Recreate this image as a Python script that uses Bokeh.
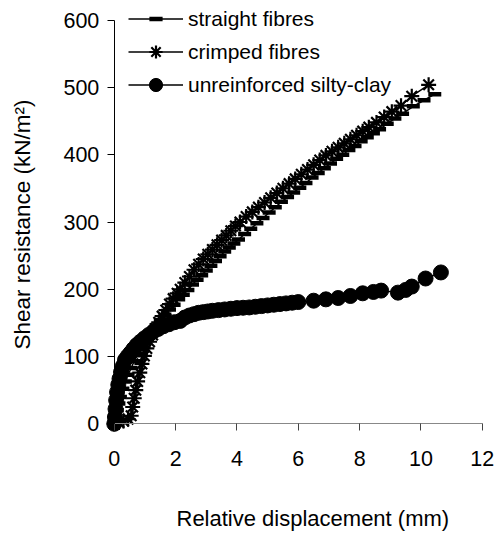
import math
from bokeh.plotting import figure
from bokeh.models import Legend, LegendItem, Label, FixedTicker, Range1d
from bokeh.embed import file_html
from bokeh.resources import INLINE

# ---- data ----
straight_x = [0, 0.05, 0.1, 0.15, 0.2, 0.28, 0.36, 0.45, 0.55, 0.65, 0.75, 0.86, 0.98, 1.1, 1.23,
              1.36, 1.5, 1.65, 1.8, 1.95, 2.1, 2.25, 2.4, 2.55, 2.7, 2.85, 3.0, 3.15, 3.3, 3.45,
              3.6, 3.75, 3.9, 4.05, 4.25, 4.45, 4.65, 4.85, 5.05, 5.25, 5.45, 5.65, 5.85, 6.05,
              6.25, 6.45, 6.65, 6.85, 7.05, 7.25, 7.45, 7.65, 7.85, 8.05, 8.25, 8.45, 8.65, 8.9,
              9.15, 9.4, 9.75, 10.1, 10.45]
straight_y = [0, 10, 20, 30, 40, 52, 63, 73, 83, 93, 102, 111, 120, 129, 138,
              146, 154, 162, 170, 177, 185, 192, 199, 207, 214, 221, 228, 235, 242, 249,
              256, 262, 268, 274, 282, 290, 298, 306, 314, 322, 330, 337, 344, 351,
              358, 366, 373, 380, 387, 394, 400, 407, 413, 420, 426, 432, 438, 446,
              454, 461, 472, 481, 490]

crimped_x = [0, 0.15, 0.3, 0.45, 0.55, 0.6, 0.65, 0.7, 0.76, 0.83, 0.9, 0.98, 1.06, 1.15,
             1.25, 1.35, 1.45, 1.56, 1.68, 1.8, 1.92, 2.05, 2.15, 2.3, 2.45, 2.6, 2.75, 2.9,
             3.05, 3.2, 3.35, 3.5, 3.65, 3.8, 3.95, 4.1, 4.3, 4.5, 4.7, 4.9, 5.1, 5.3, 5.5,
             5.7, 5.9, 6.1, 6.3, 6.5, 6.7, 6.9, 7.1, 7.3, 7.5, 7.7, 7.9, 8.1, 8.3, 8.55, 8.8,
             9.05, 9.35, 9.7, 10.25]
crimped_y = [0, 2, 4, 7, 12, 25, 38, 50, 63, 76, 89, 101, 112, 122,
             132, 142, 151, 160, 169, 178, 186, 194, 200, 210, 219, 229, 237, 245,
             252, 259, 266, 273, 280, 287, 294, 300, 308, 315, 322, 329, 336, 343, 350,
             357, 364, 371, 378, 385, 392, 399, 405, 411, 417, 423, 429, 435, 441, 448, 456,
             464, 473, 487, 504]

clay_x = [0, 0.02, 0.04, 0.06, 0.09, 0.13, 0.17, 0.22, 0.28, 0.35, 0.43, 0.52, 0.62, 0.73,
          0.85, 0.98, 1.12, 1.27, 1.43, 1.6, 1.78, 1.96, 2.15, 2.3, 2.45, 2.6, 2.75, 2.9,
          3.05, 3.2, 3.4, 3.6, 3.8, 4.0, 4.2, 4.4, 4.6, 4.8, 5.0, 5.2, 5.4, 5.6, 5.8, 6.0,
          6.5, 6.9, 7.3, 7.7, 8.1, 8.45, 8.7, 9.25, 9.5, 9.7, 10.15, 10.65]
clay_y = [0, 10, 22, 35, 47, 58, 67, 77, 86, 95, 100, 105, 111, 117,
          122, 127, 132, 137, 141, 145, 148, 151, 153, 158, 161, 163, 165, 166,
          167, 168, 169, 170, 171, 172, 172.5, 173, 174, 175, 176, 177, 178, 179, 180, 181,
          183, 185, 187, 190, 194, 196, 198, 195, 199, 204, 216, 225]

x_ticks = [0, 2, 4, 6, 8, 10, 12]
y_ticks = [0, 100, 200, 300, 400, 500, 600]
series_names = ["straight fibres", "crimped fibres", "unreinforced silty-clay"]
x_title = "Relative displacement (mm)"
y_title = "Shear resistance (kN/m\u00b2)"

# ---- layout (canvas pixels) ----
W, H = 495, 534                 # canvas = plotting frame
X0_PX, X12_PX = 113.8, 481.8    # where x=0 and x=12 fall
Y0_PX, Y600_PX = 423.3, 19.7    # where y=0 and y=600 fall
KX = (X12_PX - X0_PX) / 12.0
KY = (Y0_PX - Y600_PX) / 600.0


def dx(px):
    return (px - X0_PX) / KX


def dy(py):
    return (Y0_PX - py) / KY


FONT = "Liberation Sans"

p = figure(frame_width=W, frame_height=H,
           x_range=Range1d(dx(0), dx(W)), y_range=Range1d(dy(H), dy(0)),
           output_backend="svg", toolbar_location=None,
           min_border=0, min_border_left=0, min_border_right=0,
           min_border_top=0, min_border_bottom=0,
           background_fill_color="white", border_fill_color="white")
p.outline_line_color = None
p.grid.visible = False

# axes drawn at fixed positions inside the frame
p.xaxis.fixed_location = 0
p.yaxis.fixed_location = 0
p.xaxis.bounds = (0, 12)
p.yaxis.bounds = (0, 600)
p.xaxis.ticker = FixedTicker(ticks=x_ticks)
p.yaxis.ticker = FixedTicker(ticks=y_ticks)
for ax in (p.xaxis[0], p.yaxis[0]):
    ax.major_label_text_font = FONT
    ax.major_label_text_font_size = "21.5px"
    ax.major_label_text_color = "black"
    ax.minor_tick_line_color = None
    ax.major_tick_in = 0
    ax.major_tick_out = 7
p.xaxis.axis_line_color = "#888888"
p.xaxis.major_tick_line_color = "#444444"
p.xaxis.major_label_standoff = 20
p.yaxis.axis_line_color = "black"
p.yaxis.major_tick_line_color = "black"
p.yaxis.major_label_standoff = 8

# series
l1 = p.line(straight_x, straight_y, line_color="black", line_width=1.5)
s1 = p.scatter(straight_x, straight_y, marker="dash", size=13, line_width=4.5, line_color="black")
l2 = p.line(crimped_x, crimped_y, line_color="black", line_width=1.5)
s2 = p.scatter(crimped_x, crimped_y, marker="asterisk", size=15, line_width=2.2, line_color="black")
l3 = p.line(clay_x, clay_y, line_color="black", line_width=1.5)
s3 = p.scatter(clay_x, clay_y, marker="circle", size=15, line_color="black", fill_color="black")

legend = Legend(items=[LegendItem(label=series_names[0], renderers=[l1, s1]),
                       LegendItem(label=series_names[1], renderers=[l2, s2]),
                       LegendItem(label=series_names[2], renderers=[l3, s3])],
                location=(128, H - 101), glyph_width=55, glyph_height=33, label_height=33,
                label_standoff=5, spacing=0, padding=0, margin=0,
                border_line_color=None, background_fill_alpha=0,
                label_text_font=FONT, label_text_font_size="21px", label_text_color="black")
p.add_layout(legend)

# axis titles
xlabel = Label(x=dx(176), y=dy(518), text=x_title, text_align="left",
               text_baseline="alphabetic", text_font=FONT, text_font_size="22px",
               text_color="black")
ylabel = Label(x=dx(22), y=dy(224), text=y_title, angle=math.pi / 2, text_align="center",
               text_baseline="alphabetic", text_font=FONT, text_font_size="22.5px",
               text_color="black")
p.add_layout(xlabel)
p.add_layout(ylabel)

open("out.html", "w").write(file_html(p, INLINE))
